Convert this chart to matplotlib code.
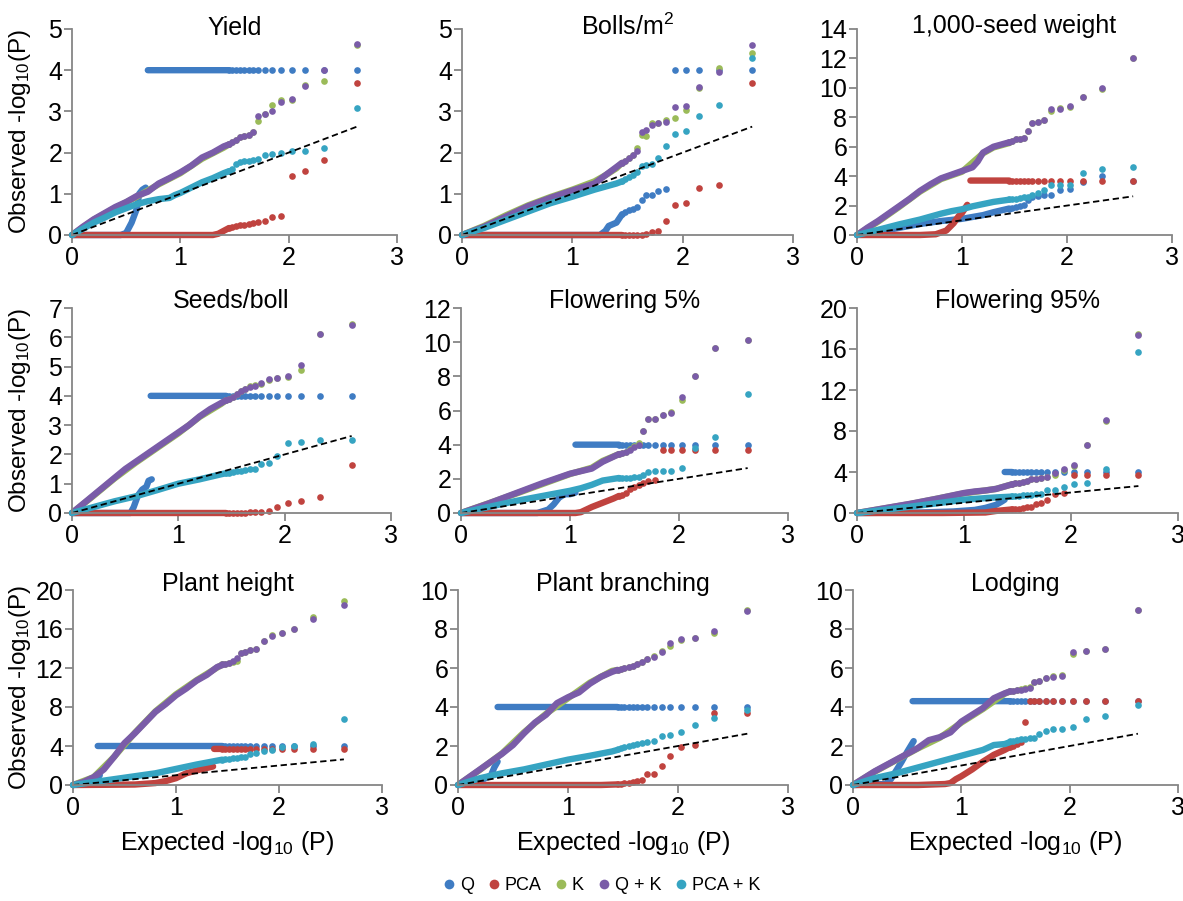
import matplotlib
matplotlib.use('Agg')
import matplotlib.pyplot as plt
from matplotlib.lines import Line2D
import numpy as np

nan = float('nan')

# series names / colours
SERIES = ['Q', 'PCA', 'K', 'Q+K', 'PCA+K']
LEGEND_LABELS = ['Q', 'PCA', 'K', 'Q + K', 'PCA + K']
COLORS = ['#3f7cc3', '#c0433f', '#9bbb59', '#7a5ca8', '#36a4c2']

# expected -log10(P) of the top-ranked (sparse) points
TAIL_X = [2.63, 2.33, 2.15, 2.03, 1.93, 1.85, 1.78, 1.72, 1.67, 1.63, 1.59, 1.55, 1.51, 1.48, 1.45]

# dense part of each curve: (expected, observed); nan breaks the line
yield_body = {
    'Q': ([0, 0.45, 0.5, 0.55, 0.6, 0.62, 0.65, 0.68, nan, 0.70, 1.45],
          [0, 0, 0.05, 0.3, 0.65, 1.0, 1.1, 1.15, nan, 4, 4]),
    'PCA': ([0, 1.3, 1.35, 1.4, 1.45], [0, 0, 0.03, 0.1, 0.17]),
    'K': ([0, 0.2, 0.4, 0.6, 0.8, 1.0, 1.2, 1.4, 1.45], [0, 0.37, 0.66, 0.93, 1.23, 1.5, 1.85, 2.12, 2.2]),
    'Q+K': ([0, 0.1, 0.2, 0.3, 0.4, 0.5, 0.6, 0.7, 0.8, 0.9, 1.0, 1.1, 1.2, 1.3, 1.4, 1.45],
            [0, 0.2, 0.38, 0.53, 0.68, 0.8, 0.95, 1.05, 1.25, 1.38, 1.52, 1.68, 1.88, 2.0, 2.15, 2.2]),
    'PCA+K': ([0, 0.1, 0.2, 0.3, 0.4, 0.5, 0.6, 0.7, 0.8, 0.9, 0.95, 1.0, 1.1, 1.2, 1.3, 1.4, 1.45],
              [0, 0.15, 0.3, 0.42, 0.55, 0.65, 0.75, 0.82, 0.87, 0.9, 0.97, 1.02, 1.15, 1.28, 1.38, 1.5, 1.55]),
}
yield_tail = {
    'Q': [4, 4, 4, 4, 4, 4, 4, 4, 4, 4, 4, 4, 4, 4, 4],
    'PCA': [3.69, 1.82, 1.56, 1.42, 0.46, 0.43, 0.35, 0.31, 0.28, 0.27, 0.25, 0.24, 0.22, 0.2, 0.18],
    'K': [4.6, 3.75, 3.65, 3.28, 3.28, 3.15, 2.93, 2.77, 2.5, 2.42, 2.4, 2.38, 2.3, 2.25, 2.22],
    'Q+K': [4.64, 4.0, 3.62, 3.3, 3.23, 3.0, 2.93, 2.88, 2.51, 2.42, 2.4, 2.38, 2.3, 2.25, 2.22],
    'PCA+K': [3.08, 2.12, 2.05, 2.03, 2.0, 1.97, 1.94, 1.85, 1.83, 1.8, 1.79, 1.76, 1.72, 1.6, 1.55],
}

bolls_body = {
    'Q': ([0, 1.25, 1.3, 1.33, 1.4, 1.45], [0, 0, 0.1, 0.22, 0.3, 0.5]),
    'PCA': ([0, 1.45], [0, 0]),
    'K': ([0, 0.2, 0.4, 0.6, 0.8, 1.0, 1.2, 1.3, 1.4, 1.45], [0, 0.22, 0.48, 0.72, 0.92, 1.1, 1.3, 1.45, 1.62, 1.75]),
    'Q+K': ([0, 0.2, 0.4, 0.6, 0.8, 1.0, 1.2, 1.3, 1.4, 1.45], [0, 0.2, 0.45, 0.7, 0.9, 1.08, 1.25, 1.45, 1.65, 1.75]),
    'PCA+K': ([0, 0.2, 0.4, 0.6, 0.8, 1.0, 1.2, 1.4, 1.45], [0, 0.17, 0.37, 0.57, 0.77, 0.93, 1.1, 1.25, 1.3]),
}
bolls_tail = {
    'Q': [4, 4, 4, 4, 4, 1.12, 1.08, 0.96, 0.96, 0.85, 0.68, 0.62, 0.6, 0.55, 0.5],
    'PCA': [3.7, 1.22, 1.15, 0.77, 0.74, 0.35, 0.1, 0.08, 0.02, 0, 0, 0, 0, 0, 0],
    'K': [4.42, 4.05, 3.58, 3.03, 2.85, 2.8, 2.73, 2.72, 2.4, 2.42, 2.12, 1.95, 1.87, 1.8, 1.75],
    'Q+K': [4.62, 3.95, 3.6, 3.14, 3.1, 2.74, 2.72, 2.67, 2.55, 2.51, 2.05, 1.95, 1.87, 1.8, 1.75],
    'PCA+K': [4.3, 3.16, 2.9, 2.53, 2.45, 2.15, 1.86, 1.72, 1.69, 1.67, 1.52, 1.45, 1.4, 1.35, 1.32],
}

seed_body = {
    'Q': ([0, 0.3, 0.6, 0.8, 1.0, 1.2, 1.3, 1.45], [0, 0.35, 0.75, 0.95, 1.1, 1.35, 1.55, 1.8]),
    'PCA': ([0, 0.6, 0.75, 0.85, 0.92, 0.97, 1.0, 1.05, nan, 1.08, 1.45],
            [0, 0, 0.05, 0.3, 0.8, 1.3, 1.5, 2.05, nan, 3.7, 3.7]),
    'K': ([0, 0.2, 0.4, 0.6, 0.8, 1.0, 1.2, 1.3, 1.45], [0, 0.9, 1.9, 2.95, 3.8, 4.3, 5.55, 5.95, 6.25]),
    'Q+K': ([0, 0.1, 0.2, 0.3, 0.4, 0.5, 0.6, 0.7, 0.8, 0.9, 1.0, 1.1, 1.15, 1.2, 1.3, 1.4, 1.45],
            [0, 0.5, 0.95, 1.45, 1.95, 2.45, 3.0, 3.45, 3.85, 4.1, 4.35, 4.6, 5.0, 5.6, 6.0, 6.2, 6.3]),
    'PCA+K': ([0, 0.2, 0.4, 0.6, 0.7, 0.8, 0.9, 1.0, 1.1, 1.2, 1.3, 1.45],
              [0, 0.35, 0.72, 1.05, 1.25, 1.45, 1.62, 1.75, 1.95, 2.1, 2.25, 2.4]),
}
seed_tail = {
    'Q': [3.65, 3.98, 3.6, 3.14, 3.07, 2.73, 2.73, 2.68, 2.55, 2.35, 2.05, 1.95, 1.9, 1.85, 1.8],
    'PCA': [3.7, 3.7, 3.7, 3.7, 3.7, 3.7, 3.7, 3.7, 3.7, 3.7, 3.7, 3.7, 3.7, 3.7, 3.7],
    'K': [12.0, 9.95, 9.4, 8.7, 8.6, 8.45, 7.8, 7.68, 7.63, 7.05, 6.6, 6.55, 6.5, 6.4, 6.3],
    'Q+K': [12.05, 9.98, 9.4, 8.77, 8.59, 8.55, 7.8, 7.68, 7.63, 7.06, 6.6, 6.55, 6.5, 6.4, 6.3],
    'PCA+K': [4.65, 4.48, 4.21, 3.42, 3.4, 3.4, 3.05, 2.85, 2.7, 2.6, 2.55, 2.5, 2.48, 2.45, 2.42],
}

seeds_body = {
    'Q': ([0, 0.55, 0.58, 0.62, 0.66, 0.7, 0.72, 0.75, nan, 0.74, 1.45],
          [0, 0, 0.2, 0.6, 0.8, 0.9, 1.1, 1.15, nan, 4, 4]),
    'PCA': ([0, 1.45], [0, 0]),
    'K': ([0, 0.2, 0.4, 0.6, 0.8, 1.0, 1.2, 1.4, 1.45], [0, 0.58, 1.18, 1.72, 2.22, 2.72, 3.28, 3.72, 3.85]),
    'Q+K': ([0, 0.1, 0.2, 0.3, 0.4, 0.5, 0.6, 0.7, 0.8, 0.9, 1.0, 1.1, 1.2, 1.3, 1.4, 1.45],
            [0, 0.3, 0.6, 0.9, 1.2, 1.5, 1.75, 2.0, 2.25, 2.5, 2.75, 3.0, 3.3, 3.55, 3.75, 3.85]),
    'PCA+K': ([0, 0.2, 0.4, 0.6, 0.8, 1.0, 1.2, 1.4, 1.45], [0, 0.2, 0.4, 0.57, 0.78, 1.0, 1.15, 1.32, 1.36]),
}
seeds_tail = {
    'Q': [4, 4, 4, 4, 4, 4, 4, 4, 4, 4, 4, 4, 4, 4, 4],
    'PCA': [1.65, 0.55, 0.42, 0.33, 0.2, 0.08, 0.05, 0.03, 0.02, 0, 0, 0, 0, 0, 0],
    'K': [6.45, 6.1, 4.87, 4.65, 4.6, 4.55, 4.42, 4.38, 4.32, 4.25, 4.15, 4.05, 3.95, 3.9, 3.85],
    'Q+K': [6.43, 6.1, 5.05, 4.67, 4.62, 4.58, 4.45, 4.32, 4.3, 4.25, 4.15, 4.05, 3.95, 3.9, 3.85],
    'PCA+K': [2.5, 2.5, 2.42, 2.4, 1.93, 1.7, 1.67, 1.5, 1.5, 1.48, 1.45, 1.42, 1.4, 1.38, 1.36],
}

f5_body = {
    'Q': ([0, 0.7, 0.8, 0.85, 0.9, 0.95, 1.0, 1.05, nan, 1.05, 1.45],
          [0, 0, 0.2, 0.5, 0.9, 1.1, 1.1, 1.2, nan, 4, 4]),
    'PCA': ([0, 1.05, 1.1, 1.2, 1.3, 1.4, 1.45], [0, 0, 0.05, 0.35, 0.6, 0.85, 1.0]),
    'K': ([0, 0.5, 1.0, 1.2, 1.3, 1.45], [0, 1.12, 2.28, 2.65, 3.05, 3.45]),
    'Q+K': ([0, 0.25, 0.5, 0.75, 1.0, 1.1, 1.2, 1.3, 1.4, 1.45], [0, 0.55, 1.15, 1.75, 2.3, 2.45, 2.6, 3.0, 3.3, 3.45]),
    'PCA+K': ([0, 0.25, 0.5, 0.75, 1.0, 1.1, 1.2, 1.3, 1.4, 1.45], [0, 0.35, 0.7, 1.0, 1.3, 1.45, 1.65, 1.9, 2.0, 2.05]),
}
f5_tail = {
    'Q': [4, 4, 4, 4, 4, 4, 4, 4, 4, 4, 4, 4, 4, 4, 4],
    'PCA': [3.7, 3.7, 3.7, 3.7, 3.7, 3.7, 1.95, 1.85, 1.76, 1.65, 1.55, 1.4, 1.2, 1.05, 1.0],
    'K': [10.15, 9.65, 8.0, 6.6, 5.9, 5.75, 5.5, 5.5, 4.8, 4.1, 3.9, 3.75, 3.6, 3.5, 3.45],
    'Q+K': [10.1, 9.65, 8.0, 6.8, 5.85, 5.75, 5.5, 5.5, 4.8, 4.0, 3.85, 3.7, 3.6, 3.5, 3.45],
    'PCA+K': [6.95, 4.45, 3.8, 2.65, 2.45, 2.45, 2.45, 2.42, 2.2, 2.1, 2.08, 2.07, 2.06, 2.05, 2.05],
}

f95_body = {
    'Q': ([0, 0.6, 0.9, 1.1, 1.2, 1.3, 1.35, 1.38, nan, 1.38, 1.45],
          [0, 0.05, 0.15, 0.3, 0.5, 0.8, 1.1, 1.3, nan, 4, 4]),
    'PCA': ([0, 0.8, 1.2, 1.3, 1.4, 1.45], [0, 0, 0.05, 0.2, 0.3, 0.35]),
    'K': ([0, 0.5, 1.0, 1.2, 1.3, 1.45], [0, 0.88, 1.92, 2.2, 2.35, 2.8]),
    'Q+K': ([0, 0.25, 0.5, 0.75, 1.0, 1.1, 1.2, 1.3, 1.4, 1.45], [0, 0.45, 0.9, 1.4, 1.95, 2.1, 2.2, 2.35, 2.65, 2.8]),
    'PCA+K': ([0, 0.25, 0.5, 0.75, 1.0, 1.2, 1.3, 1.45], [0, 0.3, 0.62, 0.95, 1.3, 1.45, 1.52, 1.6]),
}
f95_tail = {
    'Q': [4, 4, 4, 4, 4, 4, 4, 4, 4, 4, 4, 4, 4, 4, 4],
    'PCA': [3.7, 3.7, 3.7, 3.7, 1.95, 1.9, 1.3, 0.95, 0.9, 0.6, 0.55, 0.5, 0.4, 0.38, 0.35],
    'K': [17.5, 9.0, 6.6, 4.55, 4.2, 3.75, 3.5, 3.4, 3.35, 3.3, 3.1, 3.0, 2.95, 2.9, 2.85],
    'Q+K': [17.35, 9.05, 6.6, 4.65, 4.28, 3.86, 3.47, 3.4, 3.35, 3.3, 3.1, 3.0, 2.95, 2.9, 2.85],
    'PCA+K': [15.7, 4.25, 2.9, 2.85, 2.55, 2.25, 2.2, 1.9, 1.85, 1.8, 1.75, 1.72, 1.68, 1.65, 1.62],
}

ph_body = {
    'Q': ([0, 0.15, 0.22, 0.26, nan, 0.24, 1.45], [0, 0.2, 0.6, 1.0, nan, 4, 4]),
    'PCA': ([0, 0.3, 0.6, 0.8, 0.9, 1.0, 1.05, 1.1, 1.2, 1.3, 1.36, nan, 1.37, 1.45],
            [0, 0.02, 0.05, 0.2, 0.4, 0.7, 0.95, 1.2, 1.5, 1.75, 1.9, nan, 3.7, 3.7]),
    'K': ([0, 0.2, 0.4, 0.6, 0.8, 1.0, 1.2, 1.4, 1.45], [0, 0.8, 2.9, 5.35, 7.55, 9.3, 10.75, 12.05, 12.35]),
    'Q+K': ([0, 0.1, 0.2, 0.3, 0.4, 0.5, 0.6, 0.7, 0.8, 0.9, 1.0, 1.1, 1.2, 1.3, 1.4, 1.45],
            [0, 0.3, 0.8, 1.6, 2.9, 4.3, 5.3, 6.4, 7.5, 8.3, 9.2, 9.9, 10.7, 11.3, 12.1, 12.3]),
    'PCA+K': ([0, 0.2, 0.4, 0.6, 0.8, 1.0, 1.2, 1.4, 1.45], [0, 0.3, 0.6, 0.9, 1.2, 1.65, 2.1, 2.5, 2.6]),
}
ph_tail = {
    'Q': [4, 4, 4, 4, 4, 4, 4, 4, 4, 4, 4, 4, 4, 4, 4],
    'PCA': [3.7, 3.7, 3.7, 3.7, 3.7, 3.7, 3.7, 3.7, 3.7, 3.7, 3.7, 3.7, 3.7, 3.7, 3.7],
    'K': [18.85, 17.2, 16.05, 15.6, 15.35, 14.75, 13.95, 13.8, 13.6, 13.5, 12.7, 12.6, 12.5, 12.45, 12.4],
    'Q+K': [18.5, 17.0, 15.95, 15.6, 15.25, 14.8, 13.9, 13.8, 13.6, 13.5, 13.0, 12.7, 12.5, 12.45, 12.4],
    'PCA+K': [6.75, 4.25, 4.0, 3.85, 3.55, 3.5, 3.3, 3.2, 2.9, 2.85, 2.8, 2.75, 2.7, 2.65, 2.6],
}

pb_body = {
    'Q': ([0, 0.2, 0.3, 0.33, 0.36, nan, 0.36, 1.45], [0, 0.2, 0.5, 0.9, 1.2, nan, 4, 4]),
    'PCA': ([0, 1.3, 1.45], [0, 0, 0.03]),
    'K': ([0, 0.2, 0.4, 0.6, 0.8, 1.0, 1.2, 1.4, 1.45], [0, 0.78, 1.62, 2.7, 3.65, 4.45, 5.25, 5.85, 5.9]),
    'Q+K': ([0, 0.1, 0.2, 0.3, 0.4, 0.5, 0.6, 0.7, 0.8, 0.9, 1.0, 1.1, 1.2, 1.3, 1.4, 1.45],
            [0, 0.4, 0.8, 1.2, 1.6, 2.05, 2.65, 3.2, 3.6, 4.2, 4.5, 4.75, 5.2, 5.55, 5.8, 5.9]),
    'PCA+K': ([0, 0.2, 0.4, 0.6, 0.8, 1.0, 1.2, 1.4, 1.45], [0, 0.35, 0.6, 0.8, 1.05, 1.3, 1.5, 1.72, 1.8]),
}
pb_tail = {
    'Q': [4, 4, 4, 4, 4, 4, 4, 4, 4, 4, 4, 4, 4, 4, 4],
    'PCA': [3.7, 3.7, 2.05, 1.95, 1.5, 0.95, 0.55, 0.55, 0.25, 0.2, 0.15, 0.1, 0.08, 0.05, 0.03],
    'K': [8.95, 7.8, 7.55, 7.45, 7.15, 6.85, 6.6, 6.45, 6.3, 6.2, 6.1, 6.05, 6.0, 5.95, 5.9],
    'Q+K': [8.9, 7.9, 7.55, 7.48, 7.26, 6.83, 6.55, 6.45, 6.3, 6.2, 6.1, 6.05, 6.0, 5.95, 5.9],
    'PCA+K': [3.85, 3.45, 3.1, 2.7, 2.55, 2.5, 2.25, 2.2, 2.15, 2.1, 2.05, 2.0, 1.95, 1.9, 1.85],
}

lod_body = {
    'Q': ([0, 0.3, 0.35, 0.45, 0.5, 0.56, nan, 0.55, 1.45], [0, 0.05, 0.3, 1.2, 1.7, 2.25, nan, 4.3, 4.3]),
    'PCA': ([0, 0.6, 0.85, 0.9, 0.95, 1.0, 1.1, 1.2, 1.3, 1.4, 1.45],
            [0, 0, 0.05, 0.1, 0.3, 0.45, 0.8, 1.2, 1.55, 1.8, 1.95]),
    'K': ([0, 0.2, 0.4, 0.6, 0.8, 1.0, 1.2, 1.4, 1.45], [0, 0.68, 1.28, 1.88, 2.42, 3.2, 3.9, 4.68, 4.8]),
    'Q+K': ([0, 0.1, 0.2, 0.3, 0.4, 0.5, 0.6, 0.7, 0.8, 0.9, 1.0, 1.1, 1.2, 1.3, 1.4, 1.45],
            [0, 0.35, 0.7, 1.0, 1.3, 1.6, 1.9, 2.3, 2.45, 2.7, 3.25, 3.6, 3.95, 4.45, 4.7, 4.8]),
    'PCA+K': ([0, 0.2, 0.4, 0.6, 0.8, 1.0, 1.1, 1.2, 1.3, 1.4, 1.45],
              [0, 0.35, 0.6, 0.9, 1.2, 1.5, 1.65, 1.8, 2.05, 2.1, 2.2]),
}
lod_tail = {
    'Q': [4.3, 4.3, 4.3, 4.3, 4.3, 4.3, 4.3, 4.3, 4.3, 4.3, 4.3, 4.3, 4.3, 4.3, 4.3],
    'PCA': [4.3, 4.3, 4.3, 4.3, 4.3, 4.3, 4.3, 4.3, 4.3, 4.3, 3.25, 2.2, 2.1, 2.0, 1.95],
    'K': [8.95, 6.95, 6.85, 6.7, 5.65, 5.6, 5.5, 5.35, 5.3, 5.05, 4.95, 4.9, 4.85, 4.83, 4.8],
    'Q+K': [8.95, 6.95, 6.85, 6.8, 5.6, 5.55, 5.5, 5.35, 5.3, 5.0, 4.9, 4.88, 4.85, 4.83, 4.8],
    'PCA+K': [4.1, 3.55, 3.38, 3.0, 2.85, 2.85, 2.75, 2.6, 2.4, 2.4, 2.38, 2.35, 2.3, 2.28, 2.25],
}

TITLES = ['Yield', 'Bolls/m$^2$', '1,000-seed weight',
          'Seeds/boll', 'Flowering 5%', 'Flowering 95%',
          'Plant height', 'Plant branching', 'Lodging']
BODIES = [yield_body, bolls_body, seed_body, seeds_body, f5_body, f95_body, ph_body, pb_body, lod_body]
TAILS = [yield_tail, bolls_tail, seed_tail, seeds_tail, f5_tail, f95_tail, ph_tail, pb_tail, lod_tail]
YMAX = [5, 5, 14, 7, 12, 20, 20, 10, 10]
YSTEP = [1, 1, 2, 1, 2, 4, 4, 2, 2]
DIAG_END = 2.63

plt.rcParams['font.family'] = ['Liberation Sans', 'DejaVu Sans']
plt.rcParams['mathtext.default'] = 'regular'

W, H = 1183, 901
fig = plt.figure(figsize=(W / 100, H / 100), dpi=100)

# axes boxes in pixels: left, bottom, right, top
boxes = [(72, 235, 397, 29), (462, 235, 793, 29), (857, 235, 1172, 29),
         (72, 513, 391, 308), (461, 513, 788, 308), (857, 513, 1178, 308),
         (73, 785, 382, 590), (458, 785, 788, 590), (853, 785, 1178, 590)]
title_off = [-6, -6, -4, 0, 0, 0, -1, -1, -1]
grey = '#868686'

for i, (l, b, r, t) in enumerate(boxes):
    ax = fig.add_axes([l / W, 1 - b / H, (r - l) / W, (b - t) / H])
    body, tail = BODIES[i], TAILS[i]
    for name, c in zip(SERIES, COLORS):
        bx, by = body[name]
        ax.plot(bx, by, '-', color=c, lw=4.6, solid_capstyle='round',
                solid_joinstyle='round', clip_on=False)
        ty = tail[name]
        ax.plot(TAIL_X[:len(ty)], ty, 'o', color=c, ms=4.8, mew=0, clip_on=False)
    ax.plot([0, DIAG_END], [0, DIAG_END], '--', color='black', lw=1.3, dashes=(3.5, 2))

    ax.set_xlim(0, 3)
    ax.set_ylim(0, YMAX[i])
    ax.set_xticks([0, 1, 2, 3])
    ax.set_yticks(np.arange(0, YMAX[i] + 0.1, YSTEP[i]))
    for s in ['top', 'right']:
        ax.spines[s].set_visible(False)
    for s in ['left', 'bottom']:
        ax.spines[s].set_color(grey)
        ax.spines[s].set_linewidth(1.3)
    ax.tick_params(direction='out', length=6, width=1.3, color=grey,
                   labelsize=18, pad=2)
    ax.tick_params(axis='y', pad=1)
    ax.annotate(TITLES[i], xy=(0.5, 1.0), xycoords='axes fraction',
                xytext=(0, title_off[i]), textcoords='offset pixels',
                ha='center', va='baseline', fontsize=18)

    if i % 3 == 0:
        fig.text(20 / W, 1 - ((b + t) / 2) / H, 'Observed -log$_{10}$(P)',
                 rotation=90, ha='center', va='center', fontsize=17.5)
    if i >= 6:
        fig.text(((l + r) / 2) / W, 1 - 843 / H, 'Expected -log$_{10}$ (P)',
                 ha='center', va='center', fontsize=18)

handles = [Line2D([], [], ls='', marker='o', ms=7, mew=0, color=c) for c in COLORS]
fig.legend(handles, LEGEND_LABELS, loc='center', bbox_to_anchor=(600 / W, 1 - 886 / H),
           ncol=5, frameon=False, fontsize=13, handletextpad=0.1, columnspacing=0.6,
           handlelength=1.0)

fig.savefig('out.png', dpi=100)
